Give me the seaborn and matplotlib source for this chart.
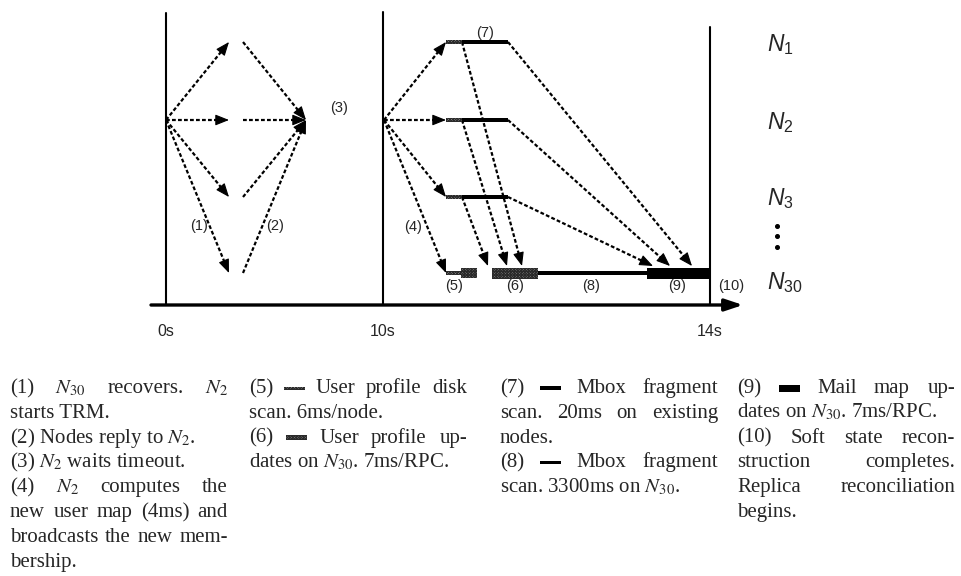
import numpy as np
import matplotlib
matplotlib.use("Agg")
import matplotlib.pyplot as plt
from matplotlib.patches import Rectangle
import seaborn as sns

# ---- timeline diagram (schematic coordinates, 1 unit = 1 px) ----
node_labels = [r"$N_{\mathit{1}}$", r"$N_{\mathit{2}}$", r"$N_{\mathit{3}}$", r"$N_{\mathit{30}}$"]
node_y = [42, 120, 197, 273]            # N1, N2, N3, N30
label_y = [45, 123, 199, 283]
tick_x = [166, 383, 710]
tick_labels = ["0s", "10s", "14s"]
line_tops = [13, 12, 27]
axis_y = 305
axis_span = [151, 743]

trm_send = [166, 229]        # (1) N2 asks every node
trm_reply = [243, 306]       # (2) nodes reply to N2
bcast = [384, 446]           # (4) N2 broadcasts new membership
scan_span = [446, 462]       # (5) disk scan on N1..N3
mbox_span = [462, 508]       # (7) mbox scan on N1..N3
n30_scan = [446, 461, 477]   # (5) on N30: thin part, then hatched part
n30_update = [492, 538]      # (6)
n30_mbox = [538, 647]        # (8)
n30_mailmap = [647, 710]     # (9)
update_tips = [522, 507, 488]    # N1, N2, N3 -> (6)
mailmap_tips = [692, 670, 653]   # N1, N2, N3 -> (9)

step_labels = ["(1)", "(2)", "(3)", "(4)", "(5)", "(6)", "(7)", "(8)", "(9)", "(10)"]
step_x = [199, 275, 339, 413, 454, 515, 485, 591, 677, 731]
step_y = [226, 226, 108, 227, 286, 286, 33, 286, 286, 286]

# ---- caption ----
col_x = [10, 249, 500, 737]
col_w = 218
cap_top = 388
cap_step = 24.8
caption_cols = [
    [("(1) $N_{30}$ recovers. $N_2$", True), ("starts TRM.", False),
     ("(2) Nodes reply to $N_2$.", False), ("(3) $N_2$ waits timeout.", False),
     ("(4) $N_2$ computes the", True), ("new user map (4ms) and", True),
     ("broadcasts the new mem-", True), ("bership.", False)],
    [("(5) #scan User profile disk", True), ("scan. 6ms/node.", False),
     ("(6) #update User profile up-", True), ("dates on $N_{30}$. 7ms/RPC.", False)],
    [("(7) #mbox Mbox fragment", True), ("scan. 20ms on existing", True),
     ("nodes.", False), ("(8) #mbox Mbox fragment", True),
     ("scan. 3300ms on $N_{30}$.", False)],
    [("(9) #mailmap Mail map up-", True), ("dates on $N_{30}$. 7ms/RPC.", False),
     ("(10) Soft state recon-", True), ("struction completes.", True),
     ("Replica reconciliation", True), ("begins.", False)],
]

sns.set_theme(style="white")
plt.rcParams["font.family"] = ["Liberation Sans", "DejaVu Sans"]
plt.rcParams["mathtext.fontset"] = "custom"
plt.rcParams["mathtext.it"] = "Liberation Sans:italic"
plt.rcParams["mathtext.rm"] = "Liberation Sans"
plt.rcParams["hatch.linewidth"] = 0.8

HATCH_FACE = "#8c8c8c"
HATCH_EDGE = "#2a2a2a"


def hatched(ax, x0, x1, yc, h, face=HATCH_FACE):
    ax.add_patch(Rectangle((x0, yc - h / 2), x1 - x0, h, facecolor=face,
                           edgecolor=HATCH_EDGE, hatch="xxxxxxxxxxxx", lw=0, zorder=4))


def solid(ax, x0, x1, yc, h):
    ax.add_patch(Rectangle((x0, yc - h / 2), x1 - x0, h, facecolor="black",
                           edgecolor="black", lw=0, zorder=4))


def dotted_arrow(ax, p0, p1):
    p0 = np.asarray(p0, float)
    p1 = np.asarray(p1, float)
    u = (p1 - p0) / np.hypot(*(p1 - p0))
    hl = 9
    stop = p1 - u * hl * 0.6
    ax.plot([p0[0], stop[0]], [p0[1], stop[1]], color="black", lw=1.6,
            ls=(0, (1.7, 1.0)), dash_capstyle="butt", zorder=3)
    back = p1 - u * hl
    ax.annotate("", xy=tuple(p1), xytext=tuple(back),
                arrowprops=dict(arrowstyle="-|>,head_length=0.7,head_width=0.28",
                                color="black", lw=0.8, shrinkA=0, shrinkB=0), zorder=5)


fig = plt.figure(figsize=(9.61, 5.76), dpi=100)
ax = fig.add_axes([0, 0, 1, 1])
ax.set_xlim(0, 961)
ax.set_ylim(576, 0)
ax.axis("off")

# time axis and phase boundaries
ax.annotate("", xy=(axis_span[1], axis_y), xytext=(axis_span[0], axis_y),
            arrowprops=dict(arrowstyle="-|>,head_length=0.9,head_width=0.3",
                            lw=2.4, color="black", shrinkA=0, shrinkB=0))
for x, top, lab in zip(tick_x, line_tops, tick_labels):
    ax.plot([x, x], [top, axis_y], color="black", lw=1.5)
    ax.text(x, 331, lab, ha="center", va="center", fontsize=11.5)

# node names
for lab, y in zip(node_labels, label_y):
    ax.text(767, y, lab, ha="left", va="center", fontsize=16.5)
for dy in [226, 236, 247]:
    ax.plot(777, dy, "o", color="black", ms=2.6)

src_y = node_y[1]
# phase 1: TRM
for y in node_y:
    dotted_arrow(ax, (trm_send[0], src_y), (trm_send[1], y))
    dotted_arrow(ax, (trm_reply[0], y), (trm_reply[1], src_y))

# phase 2: membership broadcast
for y in node_y:
    dotted_arrow(ax, (bcast[0], src_y), (bcast[1], y))

n30 = node_y[3]
for y, t6, t9 in zip(node_y[:3], update_tips, mailmap_tips):
    dotted_arrow(ax, (scan_span[1], y), (t6, n30 - 7))
    dotted_arrow(ax, (mbox_span[1], y), (t9, n30 - 7))
    hatched(ax, scan_span[0], scan_span[1], y, 4, face="#a8a8a8")
    solid(ax, mbox_span[0], mbox_span[1], y, 3.5)

hatched(ax, n30_scan[0], n30_scan[1], n30, 4, face="#a8a8a8")
hatched(ax, n30_scan[1], n30_scan[2], n30, 10)
hatched(ax, n30_update[0], n30_update[1], n30, 11)
solid(ax, n30_mbox[0], n30_mbox[1], n30, 4)
solid(ax, n30_mailmap[0], n30_mailmap[1], n30, 11)

for lab, x, y in zip(step_labels, step_x, step_y):
    ax.text(x, y, lab, ha="center", va="center", fontsize=10.5, zorder=6)

# caption, justified like the paper
renderer = fig.canvas.get_renderer()
serif = dict(family=["Liberation Serif", "DejaVu Serif"], fontsize=15,
             math_fontfamily="stix", va="baseline")
sym_w = 21


def draw_symbol(kind, x, yc):
    if kind == "#scan":
        hatched(ax, x, x + sym_w, yc, 3, face="#a8a8a8")
    elif kind == "#update":
        hatched(ax, x, x + sym_w, yc, 5)
    elif kind == "#mbox":
        solid(ax, x, x + sym_w, yc, 3.5)
    elif kind == "#mailmap":
        solid(ax, x, x + sym_w, yc, 7)


for cx, lines in zip(col_x, caption_cols):
    for i, (txt, justify) in enumerate(lines):
        yc = cap_top + i * cap_step
        base = yc + 5
        if not justify:
            ax.text(cx, base, txt, ha="left", **serif)
            continue
        toks = txt.split(" ")
        arts, widths = [], []
        for tok in toks:
            if tok.startswith("#"):
                arts.append(tok)
                widths.append(sym_w)
            else:
                t = ax.text(cx, base, tok, ha="left", **serif)
                arts.append(t)
                widths.append(t.get_window_extent(renderer).width)
        gap = (col_w - sum(widths)) / (len(toks) - 1)
        x = cx
        for a, w in zip(arts, widths):
            if isinstance(a, str):
                draw_symbol(a, x, yc)
            else:
                a.set_x(x)
            x += w + gap

fig.savefig("out.png", dpi=100)
